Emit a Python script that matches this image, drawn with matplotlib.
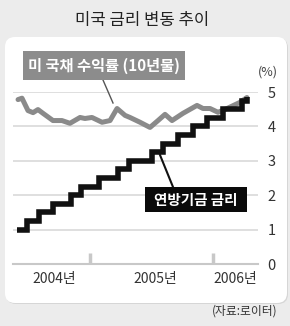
import matplotlib
matplotlib.use("Agg")
import matplotlib.pyplot as plt
from matplotlib.patches import FancyBboxPatch, Rectangle
from matplotlib.lines import Line2D

plt.rcParams['font.family'] = ['Liberation Sans Narrow', 'Noto Sans CJK KR', 'DejaVu Sans']

# 10-year treasury yield (x in fractional years)
tsy_x = [2004.415, 2004.447, 2004.496, 2004.537, 2004.577, 2004.618, 2004.699, 2004.772,
         2004.837, 2004.919, 2004.959, 2005.016, 2005.098, 2005.163, 2005.220, 2005.285,
         2005.325, 2005.407, 2005.488, 2005.553, 2005.610, 2005.667, 2005.756, 2005.870,
         2005.919, 2005.976, 2006.041, 2006.114, 2006.220, 2006.276]
tsy_y = [4.78, 4.82, 4.46, 4.40, 4.49, 4.38, 4.17, 4.17,
         4.09, 4.26, 4.23, 4.26, 4.12, 4.17, 4.52, 4.32,
         4.26, 4.12, 3.97, 4.17, 4.35, 4.17, 4.38, 4.61,
         4.52, 4.52, 4.41, 4.52, 4.70, 4.84]

# fed funds rate steps
fed_x = [2004.407, 2004.488, 2004.585, 2004.699, 2004.846, 2004.927, 2005.073, 2005.228,
         2005.317, 2005.504, 2005.593, 2005.715, 2005.837, 2005.951, 2006.081, 2006.236, 2006.276]
fed_y = [1.00, 1.25, 1.50, 1.75, 2.00, 2.25, 2.50, 2.75,
         3.00, 3.25, 3.50, 3.75, 4.00, 4.25, 4.50, 4.75, 4.85]

year_pos = [2004.707, 2005.528, 2006.179]
year_labels = ['2004년', '2005년', '2006년']
y_ticks = [0, 1, 2, 3, 4, 5]

W, H = 290, 326
fig = plt.figure(figsize=(W / 100, H / 100), dpi=100)
fig.patch.set_facecolor('#ececec')

# white rounded panel with slight shadow
shadow = FancyBboxPatch((0.06, 0.22), 2.82, 2.66, boxstyle="round,pad=0,rounding_size=0.1",
                        transform=fig.dpi_scale_trans, facecolor='#d6d6d6', edgecolor='none', zorder=-2)
panel = FancyBboxPatch((0.05, 0.23), 2.82, 2.66, boxstyle="round,pad=0,rounding_size=0.1",
                       transform=fig.dpi_scale_trans, facecolor='white', edgecolor='none', zorder=-1)
fig.patches.extend([shadow, panel])

ax = fig.add_axes([13 / W, 1 - 264 / H, 245 / W, 172 / H])
ax.set_facecolor('none')
ax.set_xlim(2004.374, 2006.366)
ax.set_ylim(0, 5)

ax.plot(tsy_x, tsy_y, color='#8a8a8a', lw=3.6, solid_joinstyle='round',
        solid_capstyle='round', clip_on=False, zorder=3)
ax.step(fed_x, fed_y, where='post', color='#111111', lw=4, solid_joinstyle='miter',
        solid_capstyle='butt', clip_on=False, zorder=4)

ax.set_yticks(y_ticks)
ax.yaxis.tick_right()
ax.tick_params(axis='y', length=0, pad=7, labelsize=10.5, labelcolor='#333333')
ax.grid(axis='y', color='#dcdcdc', lw=1.3)
ax.set_axisbelow(True)

ax.set_xticks(year_pos)
ax.set_xticklabels(year_labels)
ax.tick_params(axis='x', length=0, pad=6, labelsize=10, labelcolor='#333333')
ax.set_xticks([2005, 2006], minor=True)
ax.tick_params(axis='x', which='minor', direction='in', length=8, width=2.5, color='#c8c8c8')

for s in ['top', 'left', 'right']:
    ax.spines[s].set_visible(False)
ax.spines['bottom'].set_color('#c8c8c8')
ax.spines['bottom'].set_linewidth(1.5)

# title and notes
fig.text(0.491, 1 - 20 / H, '미국 금리 변동 추이', ha='center', va='center', fontsize=12,
         fontweight='medium', color='#222222', family=['Noto Sans CJK KR'])
fig.text(268 / W, 1 - 72 / H, '(%)', ha='center', va='center', fontsize=9, color='#444444')
fig.text(245 / W, 1 - 311 / H, '(자료:로이터)', ha='center', va='center', fontsize=8.5,
         color='#333333', family=['Noto Sans CJK KR'])

# treasury label
fig.add_artist(Line2D([103 / W, 113 / W], [1 - 80 / H, 1 - 103 / H], color='#555555', lw=1, zorder=5))
fig.add_artist(Rectangle((23 / W, 1 - 80 / H), 162 / W, 29 / H, facecolor='#8c8c8c',
                         edgecolor='none', zorder=6))
fig.text(104 / W, 1 - 66 / H, '미 국채 수익률 (10년물)', ha='center', va='center', fontsize=11,
         fontweight='bold', color='white', family=['Noto Sans CJK KR'], zorder=7)

# fed funds label
fig.add_artist(Line2D([173 / W, 160 / W], [1 - 187 / H, 1 - 155 / H], color='#111111', lw=1.5, zorder=5))
fig.add_artist(Rectangle((145 / W, 1 - 212 / H), 102 / W, 25 / H, facecolor='#0a0a0a',
                         edgecolor='none', zorder=6))
fig.text(196 / W, 1 - 199.5 / H, '연방기금 금리', ha='center', va='center', fontsize=10.5,
         fontweight='bold', color='white', family=['Noto Sans CJK KR'], zorder=7)

fig.savefig('out.png', dpi=100, facecolor=fig.get_facecolor())
